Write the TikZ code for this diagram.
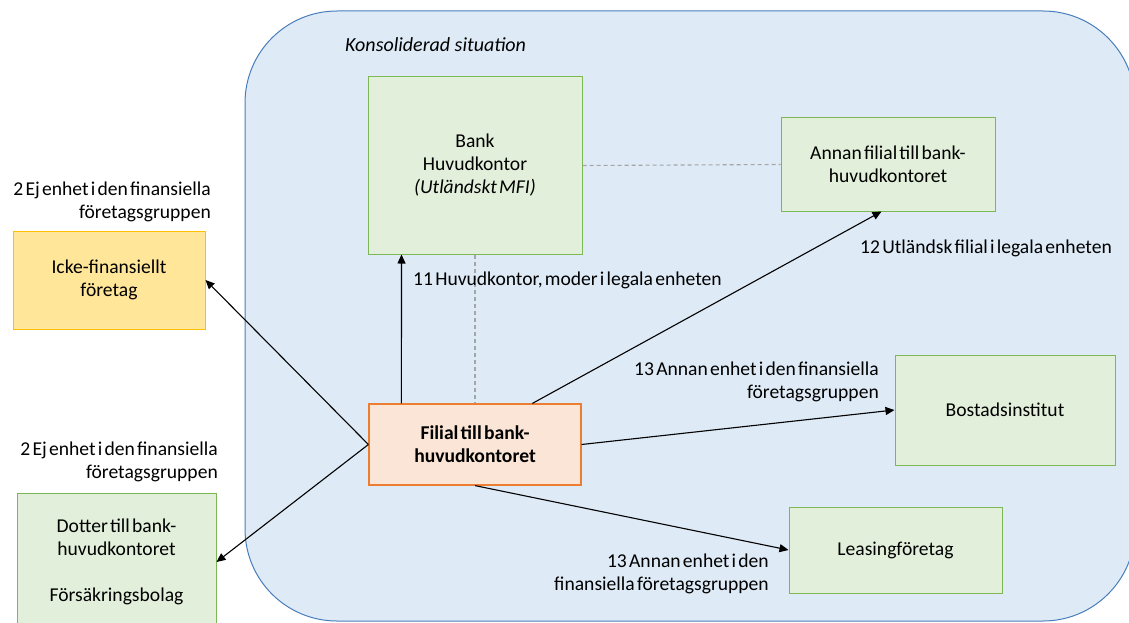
\documentclass[tikz,border=0pt]{standalone}
\usepackage{fontspec}
\setmainfont{Carlito}[WordSpace=0.5]
\newfontfamily\titlefont{Carlito}[WordSpace=1.0]
\usetikzlibrary{arrows.meta}
\definecolor{regfill}{HTML}{DEEAF6}
\definecolor{regdraw}{HTML}{4A7EBB}
\definecolor{gfill}{HTML}{E2EFDA}
\definecolor{gdraw}{HTML}{7DB756}
\definecolor{yfill}{HTML}{FFE699}
\definecolor{ydraw}{HTML}{FFC000}
\definecolor{ofill}{HTML}{FBE5D6}
\definecolor{odraw}{HTML}{ED7D31}
\definecolor{dashgray}{HTML}{A5A5A5}
\begin{document}
\begin{tikzpicture}[x=1pt,y=-1pt,
  every node/.style={font=\fontsize{19.6}{23}\selectfont, inner sep=0pt},
  box/.style={draw, line width=1pt, align=center},
  gbox/.style={box, fill=gfill, draw=gdraw},
  ybox/.style={box, fill=yfill, draw=ydraw},
  obox/.style={box, fill=ofill, draw=odraw, line width=1.2pt},
  lbl/.style={align=right, anchor=east},
  lbll/.style={align=left, anchor=west},
  arr/.style={draw=black, line width=1.1pt, -{Triangle[length=9pt,width=8pt]}},
  dashline/.style={draw=dashgray, line width=1.1pt, dash pattern=on 4pt off 3pt}]
\useasboundingbox (0,0) rectangle (1129,623);
\clip (0,0) rectangle (1129,623);
\fill[white] (0,0) rectangle (1129,623);
\draw[fill=regfill, draw=regdraw, line width=1pt, rounded corners=92pt] (245,11) rectangle (1135,621);

\node[lbll, font=\titlefont\fontsize{20}{23}\selectfont\itshape] (title) at (345,45) {Konsoliderad situation};

\node[gbox, minimum width=214pt, minimum height=177pt] (bank) at (475,165.5) {Bank\\Huvudkontor\\\textit{(Utländskt MFI)}};
\node[gbox, minimum width=214pt, minimum height=93pt] (annan) at (888,164.5) {Annan filial till bank-\\huvudkontoret};
\node[ybox, minimum width=192pt, minimum height=98pt] (icke) at (109,280) {Icke-finansiellt\\företag};
\node[gbox, minimum width=199pt, minimum height=138pt] (dotter) at (116.5,562) {Dotter till bank-\\huvudkontoret\\[23pt]Försäkringsbolag};
\node[obox, minimum width=212pt, minimum height=81pt] (filial) at (475,444.5) {\textbf{Filial till bank-}\\\textbf{huvudkontoret}};
\node[gbox, minimum width=220pt, minimum height=110pt] (bostad) at (1005,410) {Bostadsinstitut};
\node[gbox, minimum width=213pt, minimum height=86pt] (leasing) at (895.5,550) {Leasingföretag};

\draw[dashline] (bank.south) -- (filial.north);
\draw[dashline] (bank.east) -- (annan.west);

\draw[arr] ([xshift=33pt]filial.north west) -- ([xshift=34pt]bank.south west);
\draw[arr] ([xshift=164pt]filial.north west) -- ([xshift=101pt]annan.south west);
\draw[arr] (filial.east) -- (bostad.west);
\draw[arr] (filial.south) -- (leasing.west);
\draw[arr] (filial.west) -- (icke.east);
\draw[arr] (filial.west) -- (dotter.east);

\node[lbll] (l11) at (413,280) {11 Huvudkontor, moder i legala enheten};
\node[lbll] (l12) at (860,248) {12 Utländsk filial i legala enheten};
\node[lbl] (l13a) at (879,382) {13 Annan enhet i den finansiella\\företagsgruppen};
\node[lbl] (l13b) at (769,574) {13 Annan enhet i den\\finansiella företagsgruppen};
\node[lbl] (l2a) at (211,201.5) {2 Ej enhet i den finansiella\\företagsgruppen};
\node[lbl] (l2b) at (218,462) {2 Ej enhet i den finansiella\\företagsgruppen};
\end{tikzpicture}
\end{document}
